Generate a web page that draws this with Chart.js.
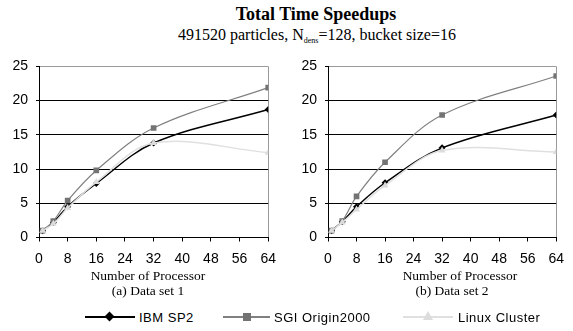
<!DOCTYPE html>
<html>
<head>
<meta charset="utf-8">
<script src="https://cdn.jsdelivr.net/npm/chart.js@4"></script>
<style>
  body { margin: 0; background: #fff; }
  #page { position: relative; width: 573px; height: 331px; overflow: hidden; font-family: "Liberation Serif", "Times New Roman", serif; }
  .abs { position: absolute; }
  .title { left: 0; width: 632px; top: 3px; text-align: center; font-weight: bold; font-size: 18px; line-height: 22px; }
  .sub { left: 0; width: 634px; top: 25px; text-align: center; font-size: 16px; line-height: 20px; }
  .sub sub { font-size: 8px; vertical-align: -3px; }
  .cap { font-size: 13.5px; line-height: 15px; text-align: center; width: 200px; }
  .leg { font-family: "Liberation Sans", Arial, sans-serif; font-size: 13px; letter-spacing: 0.5px; line-height: 15px; top: 310px; }
  .lline { height: 2px; top: 316px; }
</style>
</head>
<body>
<div id="page">
  <div class="abs title">Total Time Speedups</div>
  <div class="abs sub">491520 particles, N<sub>dens</sub>=128, bucket size=16</div>

  <canvas id="chart1" class="abs" style="left:0;top:50px"></canvas>
  <canvas id="chart2" class="abs" style="left:285px;top:50px"></canvas>

  <div class="abs cap" style="left:48px;top:268px">Number of Processor</div>
  <div class="abs cap" style="left:48px;top:283px">(a) Data set 1</div>
  <div class="abs cap" style="left:360px;top:268px">Number of Processor</div>
  <div class="abs cap" style="left:352px;top:283px">(b) Data set 2</div>

  <div class="abs lline" style="left:85px;width:50px;background:#000"></div>
  <div class="abs" style="left:106px;top:313px;width:7px;height:7px;background:#000;transform:rotate(45deg)"></div>
  <div class="abs leg" style="left:139px">IBM SP2</div>

  <div class="abs lline" style="left:223px;width:47px;background:#808080"></div>
  <div class="abs" style="left:243px;top:313px;width:8px;height:8px;background:#737373"></div>
  <div class="abs leg" style="left:274px">SGI Origin2000</div>

  <div class="abs lline" style="left:403px;width:50px;background:#e0e0e0"></div>
  <div class="abs" style="left:423px;top:311px;width:0;height:0;border-left:5px solid transparent;border-right:5px solid transparent;border-bottom:9px solid #dcdcdc"></div>
  <div class="abs leg" style="left:458px">Linux Cluster</div>
</div>
<script>
const procs = [1, 4, 8, 16, 32, 64];

// (a) data set 1
const ibm1 = [1, 2.2, 4.5, 7.9, 13.8, 18.7];
const sgi1 = [1, 2.4, 5.4, 9.8, 16.0, 21.9];
const linux1 = [1, 2.0, 4.3, 8.1, 13.8, 12.4];

// (b) data set 2
const ibm2 = [1, 2.3, 4.5, 8.0, 13.1, 17.9];
const sgi2 = [1, 2.4, 6.0, 11.0, 17.9, 23.6];
const linux2 = [1, 2.2, 4.1, 7.6, 12.7, 12.5];

const xTicks = [0, 8, 16, 24, 32, 40, 48, 56, 64];
const yTicks = [0, 5, 10, 15, 20, 25];

function pts(ys) {
    return procs.map((p, i) => ({ x: p, y: ys[i] }));
}

function makeChart(id, w, yWidth, padTop, padRight, ibm, sgi, linux) {
    const canvas = document.getElementById(id);
    canvas.width = w;
    canvas.height = 220;
    canvas.style.width = w + 'px';
    canvas.style.height = '220px';
    return new Chart(canvas.getContext('2d'), {
        type: 'line',
        data: {
            datasets: [
                {
                    label: 'Linux Cluster',
                    data: pts(linux),
                    borderColor: '#e0e0e0',
                    backgroundColor: '#dcdcdc',
                    borderWidth: 1.5,
                    pointStyle: 'triangle',
                    pointRadius: 4,
                    pointBorderWidth: 0
                },
                {
                    label: 'SGI Origin2000',
                    data: pts(sgi),
                    borderColor: '#808080',
                    backgroundColor: '#737373',
                    borderWidth: 1.2,
                    pointStyle: 'rect',
                    pointRadius: 4,
                    pointBorderWidth: 0
                },
                {
                    label: 'IBM SP2',
                    data: pts(ibm),
                    borderColor: '#000',
                    backgroundColor: '#000',
                    borderWidth: 1.5,
                    pointStyle: 'rectRot',
                    pointRadius: 3.5,
                    pointBorderWidth: 0
                }
            ]
        },
        options: {
            responsive: false,
            animation: false,
            tension: 0.35,
            layout: { padding: { top: padTop, right: padRight, left: 0, bottom: 0 } },
            plugins: {
                legend: { display: false },
                tooltip: { enabled: false }
            },
            scales: {
                x: {
                    type: 'linear',
                    min: 0,
                    max: 64,
                    afterBuildTicks: (s) => { s.ticks = xTicks.map(v => ({ value: v })); },
                    afterFit: (s) => { s.height = 270 - 50 - (237.5 - 50); },
                    border: { color: '#000', width: 1 },
                    grid: {
                        drawOnChartArea: true,
                        color: (c) => c.tick && c.tick.value === 64 ? '#9a9a9a' : 'rgba(0,0,0,0)',
                        tickColor: '#000',
                        tickLength: 4
                    },
                    ticks: {
                        color: '#000',
                        padding: 9,
                        maxRotation: 0,
                        font: { family: 'Liberation Sans', size: 14 }
                    }
                },
                y: {
                    min: 0,
                    max: 25,
                    afterBuildTicks: (s) => { s.ticks = yTicks.map(v => ({ value: v })); },
                    afterFit: (s) => { s.width = yWidth; },
                    border: { color: '#000', width: 1 },
                    grid: {
                        color: (c) => c.tick && c.tick.value === 25 ? '#9a9a9a' : '#000',
                        tickColor: '#000',
                        tickLength: 3
                    },
                    ticks: {
                        color: '#000',
                        padding: 8,
                        font: { family: 'Liberation Sans', size: 14 }
                    }
                }
            }
        }
    });
}

makeChart('chart1', 285, 39, 8, 15, ibm1, sgi1, linux1);
makeChart('chart2', 288, 43, 7, 7, ibm2, sgi2, linux2);
</script>
</body>
</html>
